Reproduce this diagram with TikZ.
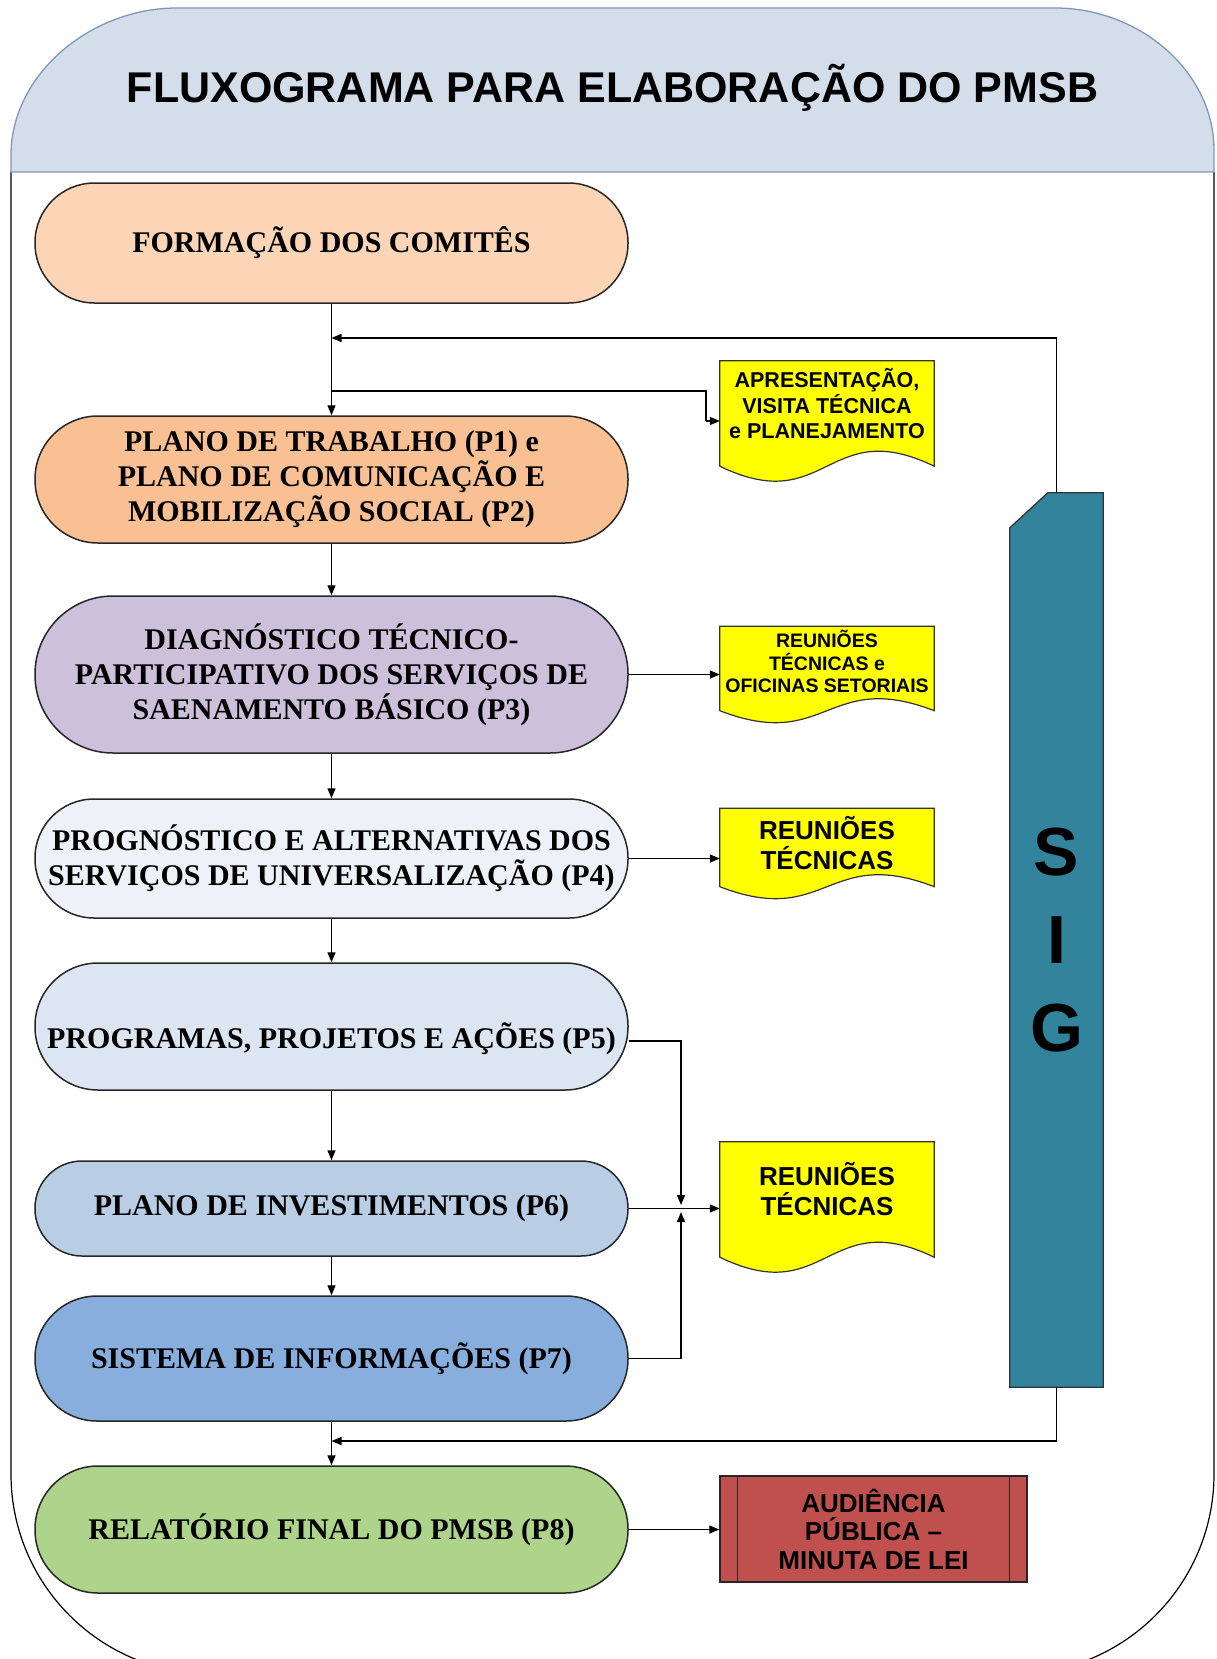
\documentclass[tikz,border=0pt]{standalone}
\usepackage{fontspec}
\setmainfont{Liberation Serif}
\newfontfamily\arialfont{Liberation Sans}
\usetikzlibrary{arrows.meta,calc}
\pgfdeclarelayer{background}
\pgfsetlayers{background,main}
\definecolor{hdrfill}{HTML}{D3DEEA}
\definecolor{hdrline}{HTML}{7E98BA}
\definecolor{cA}{HTML}{FBD5B5}
\definecolor{cB}{HTML}{F9C193}
\definecolor{cC}{HTML}{CCC0DA}
\definecolor{cD}{HTML}{EEF1F7}
\definecolor{cE}{HTML}{DCE6F2}
\definecolor{cF}{HTML}{B9CDE5}
\definecolor{cG}{HTML}{88AEDE}
\definecolor{cH}{HTML}{ADD48A}
\definecolor{docyellow}{HTML}{FFFF00}
\definecolor{redbox}{HTML}{C0504D}
\definecolor{sigteal}{HTML}{31849B}
\newcommand\bxfont{\fontsize{30}{35}\selectfont\bfseries}
\begin{document}
\begin{tikzpicture}[x=1pt,y=-1pt,
  flowbox/.style={draw=black!85, line width=1.5pt, minimum width=593pt, align=center, font=\bxfont, inner sep=0pt},
  conn/.style={line width=1.4pt, draw=black},
  arr/.style={conn, -{Triangle[length=10pt,width=8pt]}},
  docnode/.style={minimum width=214pt, inner sep=0pt, align=center, text=black},
  docshape/.style={fill=docyellow, draw=black!80, line width=1.2pt},
]
\clip (0,0) rectangle (1216,1659);
% outer frame body
\draw[line width=1.2pt, rounded corners=200pt] (11,172) -- (11,1674) -- (1214,1674) -- (1214,172);
% header
\draw[fill=hdrfill, draw=hdrline, line width=1.3pt] (11,172) -- (11,155) .. controls (11,75) and (90,8) .. (177,8) -- (1055,8) .. controls (1140,8) and (1214,72) .. (1214,150) -- (1214,172) -- cycle;
\node[font=\arialfont\bfseries\fontsize{43}{50}\selectfont] (title) at (612.5,88) {FLUXOGRAMA PARA ELABORAÇÃO DO PMSB};

% main flow boxes
\node[flowbox, fill=cA, minimum height=120pt, rounded corners=59.5pt] (b1) at (331.5,243) {FORMAÇÃO DOS COMITÊS};
\node[flowbox, fill=cB, minimum height=127pt, rounded corners=63pt] (b2) at (331.5,479.5) {PLANO DE TRABALHO (P1) e\\PLANO DE COMUNICAÇÃO E\\MOBILIZAÇÃO SOCIAL (P2)};
\node[flowbox, fill=cC, minimum height=157pt, rounded corners=78pt] (b3) at (331.5,674.5) {DIAGNÓSTICO TÉCNICO-\\PARTICIPATIVO DOS SERVIÇOS DE\\SAENAMENTO BÁSICO (P3)};
\node[flowbox, fill=cD, minimum height=119pt, rounded corners=59pt] (b4) at (331.5,858.5) {PROGNÓSTICO E ALTERNATIVAS DOS\\SERVIÇOS DE UNIVERSALIZAÇÃO (P4)};
\node[flowbox, fill=cE, minimum height=127pt, rounded corners=63pt, text height=50pt, text depth=6pt] (b5) at (331.5,1026.5) {PROGRAMAS, PROJETOS E AÇÕES (P5)};
\node[flowbox, fill=cF, minimum height=95pt, rounded corners=47pt] (b6) at (331.5,1208.5) {PLANO DE INVESTIMENTOS (P6)};
\node[flowbox, fill=cG, minimum height=125pt, rounded corners=62pt] (b7) at (331.5,1358.5) {SISTEMA DE INFORMAÇÕES (P7)};
\node[flowbox, fill=cH, minimum height=127pt, rounded corners=63pt] (b8) at (331.5,1529.5) {RELATÓRIO FINAL DO PMSB (P8)};

% documents
\node[docnode, minimum height=86pt, font=\arialfont\bfseries\fontsize{21.5}{25.5}\selectfont] (d1) at (827,404) {APRESENTAÇÃO,\\VISITA TÉCNICA\\e PLANEJAMENTO};
\node[docnode, minimum height=70pt, font=\arialfont\bfseries\fontsize{19.5}{22.5}\selectfont] (d2) at (827,661.5) {REUNIÕES\\TÉCNICAS e\\OFICINAS SETORIAIS};
\node[docnode, minimum height=69pt, font=\arialfont\bfseries\fontsize{26}{30}\selectfont] (d3) at (827,843) {REUNIÕES\\TÉCNICAS};
\node[docnode, minimum height=94pt, font=\arialfont\bfseries\fontsize{26}{30}\selectfont] (d4) at (827,1189) {REUNIÕES\\TÉCNICAS};

\begin{pgfonlayer}{background}
\foreach \d/\e/\a in {d1/19/15, d2/14/12, d3/9/12, d4/21/15}{
  \path[docshape] (\d.north west) -- (\d.north east) -- ($(\d.south east)+(0,\e)$)
    .. controls ($(\d.south)+(0,\e-3.46*\a)$) and ($(\d.south)+(0,\e+3.46*\a)$) .. ($(\d.south west)+(0,\e)$) -- cycle;
}
\end{pgfonlayer}

% red box
\node[draw=black!85, line width=1.5pt, fill=redbox, minimum width=307pt, minimum height=106pt, align=center, inner sep=0pt,
  font=\arialfont\bfseries\fontsize{26}{28.5}\selectfont] (r) at (873.5,1529) {AUDIÊNCIA\\PÚBLICA –\\MINUTA DE LEI};
\draw[line width=1.3pt, draw=black!85] ($(r.north west)+(18,0)$) -- ($(r.south west)+(18,0)$);
\draw[line width=1.3pt, draw=black!85] ($(r.north east)+(-18,0)$) -- ($(r.south east)+(-18,0)$);

% SIG
\node[minimum width=93pt, minimum height=894pt, inner sep=0pt, align=center,
  font=\arialfont\bfseries\fontsize{68}{88}\selectfont] (sig) at (1056.5,940) {S\\I\\G};
\begin{pgfonlayer}{background}
\path[fill=sigteal, draw=black!80, line width=1.3pt] ($(sig.north west)+(0,35)$) -- ($(sig.north west)+(38,0)$) -- (sig.north east) -- (sig.south east) -- (sig.south west) -- cycle;
\end{pgfonlayer}

% connectors
\coordinate (j1) at (331.5,338);
\coordinate (j2) at (331.5,391);
\coordinate (k1) at (706,421);
\coordinate (m5) at (681,1041);
\coordinate (m6) at (681,1205);
\coordinate (m7) at (681,1212);
\coordinate (j3) at (331.5,1441);
\draw[arr] (b1.south) -- (b2.north);
\draw[arr] (sig.north) -- (sig.north |- j1) -- (j1);
\draw[conn] (j2) -| (k1);
\draw[arr] (k1) -- (k1 -| d1.west);
\draw[arr] (b2.south) -- (b3.north);
\draw[arr] (b3.east) -- (b3.east -| d2.west);
\draw[arr] (b3.south) -- (b4.north);
\draw[arr] (b4.east) -- (b4.east -| d3.west);
\draw[arr] (b4.south) -- (b5.north);
\draw[arr] (b5.east |- m5) -- (m5) -- (m6);
\draw[arr] (b5.south) -- (b6.north);
\draw[arr] (b6.east) -- (b6.east -| d4.west);
\draw[arr] (b6.south) -- (b7.north);
\draw[arr] (b7.east) -| (m7);
\draw[arr] (b7.south) -- (b8.north);
\draw[arr] (sig.south) -- (sig.south |- j3) -- (j3);
\draw[arr] (b8.east) -- (b8.east -| r.west);
\end{tikzpicture}
\end{document}
